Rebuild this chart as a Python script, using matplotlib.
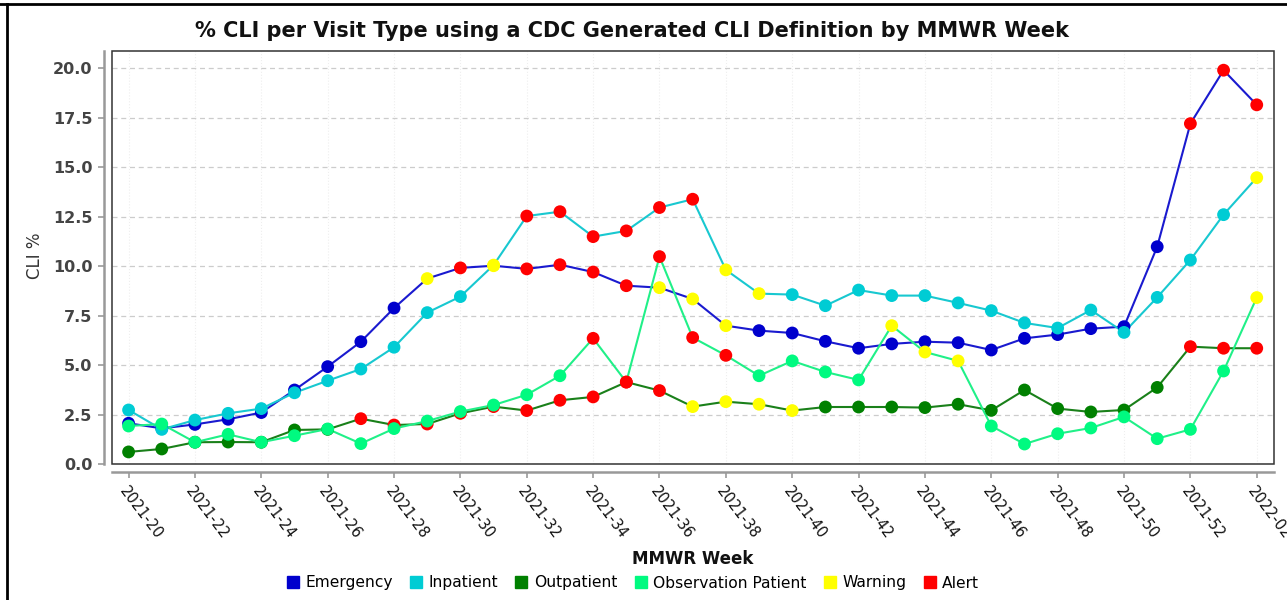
import matplotlib
matplotlib.use("Agg")
import matplotlib.pyplot as plt
from matplotlib.lines import Line2D
from matplotlib.patches import Rectangle

plt.rcParams['font.family'] = ['DejaVu Sans']

weeks = ["2021-20", "2021-21", "2021-22", "2021-23", "2021-24", "2021-25", "2021-26",
         "2021-27", "2021-28", "2021-29", "2021-30", "2021-31", "2021-32", "2021-33",
         "2021-34", "2021-35", "2021-36", "2021-37", "2021-38", "2021-39", "2021-40",
         "2021-41", "2021-42", "2021-43", "2021-44", "2021-45", "2021-46", "2021-47",
         "2021-48", "2021-49", "2021-50", "2021-51", "2021-52", "2022-01", "2022-02"]

emergency = [2.06, 1.80, 2.00, 2.26, 2.60, 3.74, 4.92, 6.18, 7.88, 9.37, 9.91, 10.02,
             9.86, 10.07, 9.70, 9.01, 8.91, 8.34, 6.99, 6.74, 6.62, 6.20, 5.85, 6.07,
             6.18, 6.13, 5.76, 6.35, 6.54, 6.84, 6.94, 10.98, 17.20, 19.90, 18.15]
inpatient = [2.73, 1.75, 2.22, 2.56, 2.80, 3.60, 4.21, 4.80, 5.90, 7.65, 8.46, 10.05,
             12.53, 12.75, 11.49, 11.78, 12.96, 13.38, 9.81, 8.61, 8.56, 8.00, 8.79, 8.51,
             8.51, 8.14, 7.75, 7.13, 6.87, 7.78, 6.65, 8.42, 10.31, 12.60, 14.47]
outpatient = [0.61, 0.76, 1.10, 1.11, 1.10, 1.72, 1.75, 2.29, 1.97, 2.02, 2.56, 2.90,
              2.70, 3.22, 3.39, 4.14, 3.71, 2.90, 3.15, 3.02, 2.70, 2.88, 2.88, 2.88,
              2.85, 3.02, 2.71, 3.74, 2.80, 2.63, 2.73, 3.87, 5.93, 5.85, 5.85]
observation = [1.92, 2.02, 1.10, 1.50, 1.10, 1.43, 1.77, 1.03, 1.79, 2.17, 2.65, 2.98,
               3.50, 4.46, 6.35, 4.14, 10.48, 6.39, 5.49, 4.46, 5.21, 4.65, 4.25, 6.99,
               5.66, 5.21, 1.92, 1.01, 1.53, 1.82, 2.38, 1.28, 1.75, 4.70, 8.41]

# N = normal, W = warning, A = alert
emergency_status = "NNNNNNNNNWAWAAAAWWWNNNNNNNNNNNNNAAA"
inpatient_status = "NNNNNNNNNNNWAAAAAAWWNNNNNNNNNNNNNNW"
outpatient_status = "NNNNNNNAAAAAAAAAAWWWWNNNNNNNNNNNAAA"
observation_status = "NNNNNNNNNNNNNNAAAAANNNNWWWNNNNNNNNW"

series_names = ["Emergency", "Inpatient", "Outpatient", "Observation Patient"]
series_values = [emergency, inpatient, outpatient, observation]
series_status = [emergency_status, inpatient_status, outpatient_status, observation_status]
series_colors = ["#0000CD", "#00CCD4", "#008000", "#00FA80"]
line_colors = ["#1A1ACF", "#18C8D0", "#1A801A", "#20F088"]
warn_color = "#FFFF00"
alert_color = "#FF0000"

W, H = 1287, 600
fig = plt.figure(figsize=(W / 100, H / 100), dpi=100)
ax = fig.add_axes([112 / W, 1 - 464 / H, (1274 - 112) / W, (464 - 51) / H])

x = list(range(len(weeks)))
for i, (name, vals, st) in enumerate(zip(series_names, series_values, series_status)):
    ax.plot(x, vals, color=line_colors[i], lw=1.5, zorder=2)
for i, (name, vals, st) in enumerate(zip(series_names, series_values, series_status)):
    cols = [series_colors[i] if s == "N" else (warn_color if s == "W" else alert_color) for s in st]
    ax.scatter(x, vals, s=85, c=cols, edgecolors='none', zorder=3 + i)

for sp in ['top', 'right']:
    ax.spines[sp].set_visible(False)
ax.spines['left'].set_position(('outward', 6))
ax.spines['bottom'].set_position(('outward', 6))
ax.spines['left'].set_color('#999999')
ax.spines['bottom'].set_color('#999999')
ax.spines['left'].set_linewidth(1.8)
ax.spines['bottom'].set_linewidth(1.8)
ax.tick_params(axis='y', length=4, width=1.2, color='#999999', pad=4)
ax.tick_params(axis='x', length=4, width=1.2, color='#999999', pad=4)

ax.set_xlim(-0.5, len(weeks) - 0.48)
ax.set_ylim(0, 20.87)
ax.set_yticks([0, 2.5, 5, 7.5, 10, 12.5, 15, 17.5, 20])
ax.set_yticklabels(["0.0", "2.5", "5.0", "7.5", "10.0", "12.5", "15.0", "17.5", "20.0"],
                   fontweight='bold', color='#444444', fontsize=11.5)
ax.set_xticks(x[::2])
ax.set_xticklabels(weeks[::2], fontsize=10.5, color='#111111')
for lab in ax.get_xticklabels():
    lab.set_rotation(-53)
    lab.set_rotation_mode('anchor')
    lab.set_ha('left')
    lab.set_va('top')
    lab.set_clip_on(False)

ax.grid(axis='y', color='#CCCCCC', linestyle=(0, (4, 3)), lw=0.9)
ax.grid(axis='x', color='#EEEEEE', linestyle=':', lw=0.8)
ax.set_axisbelow(True)

ax.add_patch(Rectangle((0, 0), 1, 1, transform=ax.transAxes, fill=False,
                       ec='#333333', lw=1.1, zorder=10, clip_on=False))

fig.text(632 / W, 1 - 31 / H, "% CLI per Visit Type using a CDC Generated CLI Definition by MMWR Week",
         ha='center', va='center', fontsize=15, fontweight='bold', color='#111111')
fig.text(35 / W, 1 - 256 / H, "CLI %", rotation=90, ha='center', va='center',
         fontsize=12, color='#333333')
fig.text(693 / W, 1 - 559 / H, "MMWR Week", ha='center', va='center',
         fontsize=12, fontweight='bold', color='#111111')

handles = [Line2D([], [], marker='s', ls='none', markersize=9, color=c) for c in
           series_colors + [warn_color, alert_color]]
labels = series_names + ["Warning", "Alert"]
fig.legend(handles, labels, loc='center', bbox_to_anchor=(632 / W, 1 - 583 / H), ncol=6,
           frameon=False, fontsize=11.2, handletextpad=0.3, columnspacing=1.0,
           handlelength=1.0, borderpad=0)

# outer border (top and left)
fig.add_artist(Line2D([0, 1], [1 - 4 / H, 1 - 4 / H], transform=fig.transFigure, color='black', lw=2))
fig.add_artist(Line2D([7 / W, 7 / W], [0, 1 - 4 / H], transform=fig.transFigure, color='black', lw=2))

fig.savefig("out.png", dpi=100)
